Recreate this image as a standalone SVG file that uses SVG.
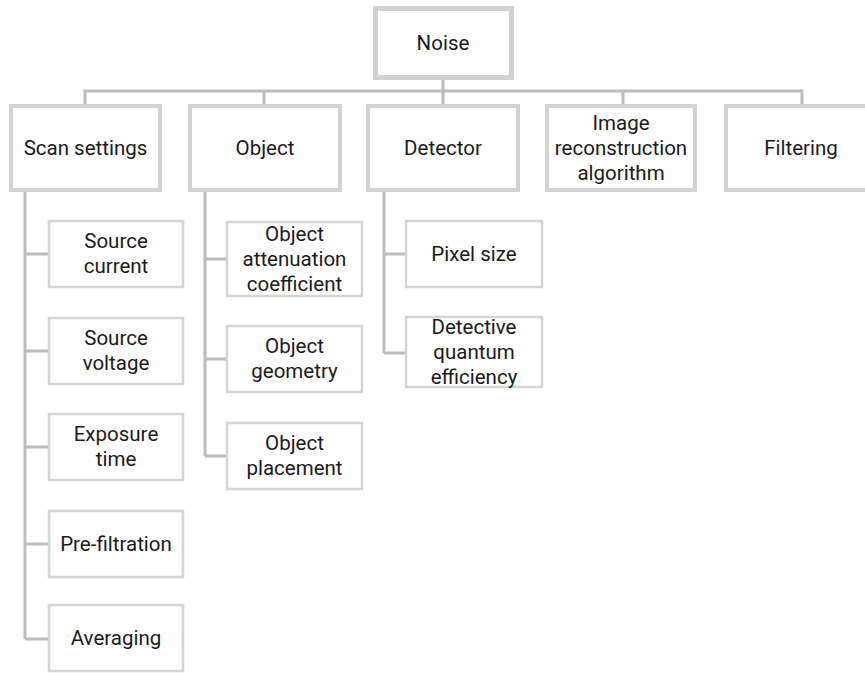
<svg xmlns="http://www.w3.org/2000/svg" width="865" height="673" viewBox="0 0 865 673">
  <style>
    .root { fill: #ffffff; stroke: #d2d2d2; stroke-width: 5; }
    .l1 { fill: #ffffff; stroke: #d2d2d2; stroke-width: 4; }
    .l2 { fill: #ffffff; stroke: #d4d4d4; stroke-width: 2.5; }
    .wire { fill: none; stroke: #bcbcbc; stroke-width: 3; }
    text { font-family: Roboto, "Open Sans", sans-serif; font-size: 20.5px; fill: #1a1a1a; text-anchor: middle; }
  </style>
  <rect width="865" height="673" fill="#ffffff"/>

  <!-- connectors -->
  <g id="connectors">
    <path class="wire" d="M443 80 V91 M85 104 V91 H802 V104 M264 91 V104 M443 91 V104 M623 91 V104"/>
    <path class="wire" d="M25 192 V639 M25 254 H48 M25 351 H48 M25 447 H48 M25 544 H48 M25 639 H48"/>
    <path class="wire" d="M205 192 V456 M205 259 H226 M205 359 H226 M205 456 H226"/>
    <path class="wire" d="M384 192 V353 M384 254 H405 M384 353 H405"/>
  </g>

  <!-- root -->
  <g id="noise">
    <rect class="root" x="375.5" y="8.5" width="136" height="69"/>
    <text x="443" y="50">Noise</text>
  </g>

  <!-- first level -->
  <g id="scan-settings">
    <rect class="l1" x="11" y="106" width="149" height="84"/>
    <text x="85.5" y="155">Scan settings</text>
  </g>
  <g id="object">
    <rect class="l1" x="190" y="106" width="150" height="84"/>
    <text x="265" y="155">Object</text>
  </g>
  <g id="detector">
    <rect class="l1" x="368" y="106" width="150" height="84"/>
    <text x="443" y="155">Detector</text>
  </g>
  <g id="image-reconstruction">
    <rect class="l1" x="547" y="106" width="148" height="84"/>
    <text x="621" y="130"><tspan x="621">Image</tspan><tspan x="621" dy="25">reconstruction</tspan><tspan x="621" dy="25">algorithm</tspan></text>
  </g>
  <g id="filtering">
    <rect class="l1" x="726" y="106" width="150" height="84"/>
    <text x="801" y="155">Filtering</text>
  </g>

  <!-- scan settings children -->
  <g id="source-current">
    <rect class="l2" x="49" y="221" width="134" height="66"/>
    <text x="116" y="248"><tspan x="116">Source</tspan><tspan x="116" dy="25">current</tspan></text>
  </g>
  <g id="source-voltage">
    <rect class="l2" x="49" y="318" width="134" height="66"/>
    <text x="116" y="345"><tspan x="116">Source</tspan><tspan x="116" dy="25">voltage</tspan></text>
  </g>
  <g id="exposure-time">
    <rect class="l2" x="49" y="414" width="134" height="66"/>
    <text x="116" y="441"><tspan x="116">Exposure</tspan><tspan x="116" dy="25">time</tspan></text>
  </g>
  <g id="pre-filtration">
    <rect class="l2" x="49" y="511" width="134" height="66"/>
    <text x="116" y="551">Pre-filtration</text>
  </g>
  <g id="averaging">
    <rect class="l2" x="49" y="605" width="134" height="66"/>
    <text x="116" y="645">Averaging</text>
  </g>

  <!-- object children -->
  <g id="object-attenuation">
    <rect class="l2" x="227" y="222" width="135" height="74"/>
    <text x="294.5" y="241"><tspan x="294.5">Object</tspan><tspan x="294.5" dy="25">attenuation</tspan><tspan x="294.5" dy="25">coefficient</tspan></text>
  </g>
  <g id="object-geometry">
    <rect class="l2" x="227" y="326" width="135" height="66"/>
    <text x="294.5" y="353"><tspan x="294.5">Object</tspan><tspan x="294.5" dy="25">geometry</tspan></text>
  </g>
  <g id="object-placement">
    <rect class="l2" x="227" y="423" width="135" height="66"/>
    <text x="294.5" y="450"><tspan x="294.5">Object</tspan><tspan x="294.5" dy="25">placement</tspan></text>
  </g>

  <!-- detector children -->
  <g id="pixel-size">
    <rect class="l2" x="406" y="221" width="136" height="66"/>
    <text x="474" y="261">Pixel size</text>
  </g>
  <g id="detective-quantum-efficiency">
    <rect class="l2" x="406" y="317" width="136" height="70"/>
    <text x="474" y="334"><tspan x="474">Detective</tspan><tspan x="474" dy="25">quantum</tspan><tspan x="474" dy="25">efficiency</tspan></text>
  </g>
</svg>
